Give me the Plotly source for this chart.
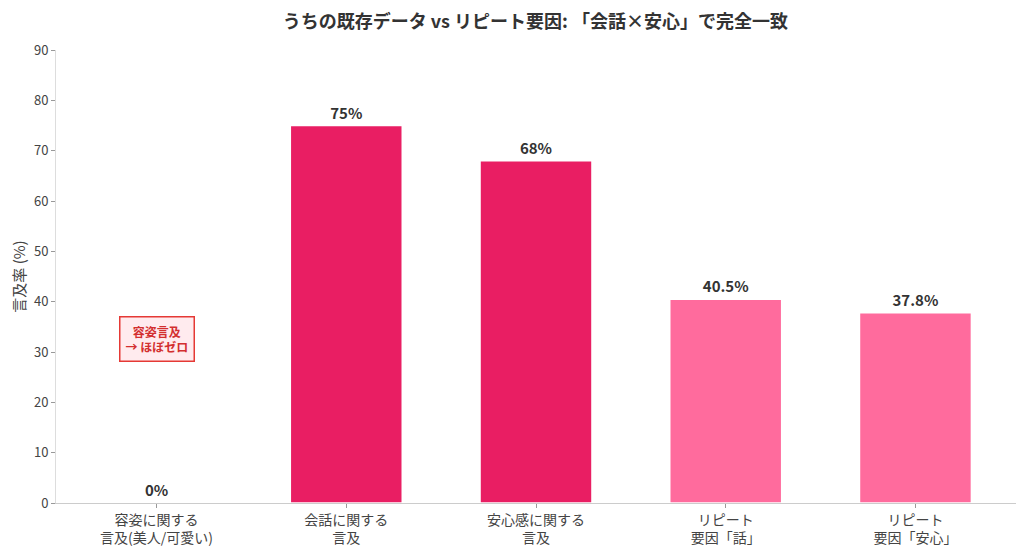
import plotly.graph_objects as go

categories = ["容姿に関する<br>言及(美人/可愛い)", "会話に関する<br>言及", "安心感に関する<br>言及", "リピート<br>要因「話」", "リピート<br>要因「安心」"]
values = [0, 75, 68, 40.5, 37.8]
value_labels = ["0%", "75%", "68%", "40.5%", "37.8%"]
colors = ["#E91E63", "#E91E63", "#E91E63", "#FF6B9D", "#FF6B9D"]
y_ticks = [0, 10, 20, 30, 40, 50, 60, 70, 80, 90]
note_text = "<b>容姿言及<br>→ ほぼゼロ</b>"
note_y = 32.6

FONT = "Noto Sans CJK JP"

fig = go.Figure()
fig.add_trace(go.Bar(
    x=list(range(len(categories))),
    y=values,
    width=0.59,
    marker=dict(color=colors, line=dict(color="white", width=1.5)),
    text=["<b>" + t + "</b>" for t in value_labels],
    textposition="outside",
    textfont=dict(family=FONT, size=15, color="#333333"),
    cliponaxis=False,
    hoverinfo="skip",
))

fig.add_annotation(
    x=0, y=note_y, xref="x", yref="y",
    text=note_text, showarrow=False,
    font=dict(family=FONT, size=12, color="#D32F2F"),
    bgcolor="#FFEBEE", bordercolor="#E53935", borderwidth=1.5, borderpad=5,
    align="center",
)

fig.update_layout(
    width=1024, height=554,
    margin=dict(l=48, r=16, t=42, b=59, autoexpand=False),
    paper_bgcolor="white", plot_bgcolor="white",
    showlegend=False,
    title=dict(text="<b>うちの既存データ vs リピート要因: 「会話×安心」で完全一致</b>",
               x=0.515, xanchor="center", y=0.987, yanchor="top",
               font=dict(family=FONT, size=18, color="#333333")),
    font=dict(family=FONT, size=13, color="#444444"),
)
fig.update_xaxes(
    tickmode="array", tickvals=list(range(len(categories))), ticktext=categories,
    range=[-0.53, 4.53], showline=True, linecolor="#cccccc", linewidth=1,
    ticks="outside", ticklen=4, tickcolor="#999999", showgrid=False, zeroline=False,
    tickfont=dict(family=FONT, size=14, color="#444444"), automargin=False,
)
fig.update_yaxes(
    tickmode="array", tickvals=y_ticks, range=[0, 90],
    showline=True, linecolor="#dddddd", linewidth=1,
    ticks="outside", ticklen=4, tickcolor="#999999", showgrid=False, zeroline=False,
    title=dict(text="言及率 (%)", font=dict(family=FONT, size=15, color="#444444"), standoff=14),
    tickfont=dict(family=FONT, size=13, color="#444444"), automargin=False,
)

fig.write_html("out.html")
